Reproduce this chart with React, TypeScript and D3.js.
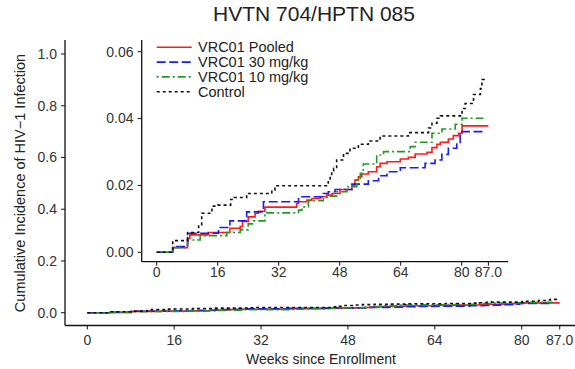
import React from "react";
import * as d3 from "d3";

// ---- data (weeks, cumulative incidence) ----
const xTicks = [0, 16, 32, 48, 64, 80, 87];
const xTickLabels = ["0", "16", "32", "48", "64", "80", "87.0"];
const mainYTicks = [0, 0.2, 0.4, 0.6, 0.8, 1.0];
const insetYTicks = [0, 0.02, 0.04, 0.06];

const seriesNames = ["VRC01 Pooled", "VRC01 30 mg/kg", "VRC01 10 mg/kg", "Control"];

const pooledTimes = [0, 4.2, 8.1, 8.7, 13.5, 19.2, 21.9, 22.5, 24.0, 25.8, 26.7, 28.4, 36.7, 37.2, 39.4, 40.7, 42.9, 44.6, 46.0, 48.1, 51.2, 52.0, 52.9, 53.8, 55.5, 57.7, 58.6, 60.4, 63.9, 66.0, 67.8, 70.9, 72.2, 73.5, 74.4, 76.5, 77.8, 79.2, 80.1, 87.0];
const pooledVals = [0, 0.0014, 0.0042, 0.0052, 0.0059, 0.0072, 0.0077, 0.0092, 0.0106, 0.0117, 0.0123, 0.0135, 0.0146, 0.0151, 0.0156, 0.0161, 0.0166, 0.0171, 0.0176, 0.0188, 0.0201, 0.0216, 0.0226, 0.0234, 0.0241, 0.0256, 0.0266, 0.0271, 0.0279, 0.0284, 0.0294, 0.0299, 0.0313, 0.0323, 0.0329, 0.0339, 0.0349, 0.0356, 0.0378, 0.0378];

const mg30Times = [0, 4.2, 8.1, 16.2, 19.2, 23.6, 28.0, 37.2, 43.7, 45.0, 46.8, 51.2, 55.5, 58.2, 60.4, 63.9, 70.4, 73.0, 74.8, 76.5, 78.7, 79.6, 85.7];
const mg30Vals = [0, 0.0017, 0.0057, 0.0074, 0.0094, 0.0121, 0.0151, 0.0166, 0.0176, 0.0181, 0.0188, 0.0204, 0.0214, 0.0229, 0.0241, 0.0253, 0.0266, 0.0276, 0.0293, 0.0311, 0.0326, 0.0361, 0.0361];

const mg10Times = [0, 4.2, 8.1, 11.4, 18.4, 21.9, 24.0, 25.4, 28.4, 28.9, 37.2, 38.1, 39.8, 43.7, 45.5, 47.2, 49.9, 52.5, 53.4, 54.2, 57.7, 59.5, 66.5, 67.8, 72.2, 74.8, 78.3, 80.1, 85.7];
const mg10Vals = [0, 0.0014, 0.0037, 0.0050, 0.0059, 0.0067, 0.0085, 0.0094, 0.0112, 0.0118, 0.0126, 0.0136, 0.0154, 0.0164, 0.0168, 0.0181, 0.0196, 0.0216, 0.0236, 0.0264, 0.0291, 0.0301, 0.0316, 0.0329, 0.0356, 0.0369, 0.0383, 0.0401, 0.0401];

const controlTimes = [0, 4.2, 8.1, 11.0, 11.8, 14.5, 16.0, 19.4, 20.3, 23.6, 30.2, 31.0, 45.0, 45.5, 45.9, 46.4, 47.2, 49.0, 50.7, 52.9, 55.5, 58.6, 66.0, 71.3, 72.2, 73.5, 74.4, 80.1, 80.9, 83.1, 84.9, 85.3, 86.6];
const controlVals = [0, 0.0035, 0.0059, 0.0082, 0.0117, 0.0138, 0.0141, 0.0158, 0.0164, 0.0176, 0.0186, 0.0199, 0.0211, 0.0226, 0.0244, 0.0251, 0.0276, 0.0296, 0.0311, 0.0323, 0.0333, 0.0348, 0.0358, 0.0372, 0.0386, 0.0401, 0.0408, 0.0430, 0.0445, 0.0472, 0.0490, 0.0517, 0.0517];

const seriesTimes = [pooledTimes, mg30Times, mg10Times, controlTimes];
const seriesVals = [pooledVals, mg30Vals, mg10Vals, controlVals];

// ---- styles ----
const colors = ["#ff1a1a", "#1a1aff", "#229922", "#111111"];
const dashes = ["none", "9,3.5", "2,3,8,3", "3,3"];
const FONT = "'Liberation Sans', Arial, sans-serif";
const TXT = "#333";

export default function App() {
  const W = 575, H = 369;

  // main scales
  const mx = d3.scaleLinear().domain([0, 80]).range([87.3, 521.7]);
  const my = d3.scaleLinear().domain([0, 1]).range([312.7, 54]);
  // inset scales
  const ix = d3.scaleLinear().domain([0, 80]).range([156.7, 461.7]);
  const iy = d3.scaleLinear().domain([0, 0.06]).range([252.3, 51.7]);

  const pts = seriesTimes.map((t, i) => t.map((w, j) => [w, seriesVals[i][j]] as [number, number]));

  const mainLine = d3.line<[number, number]>().x(d => mx(d[0])).y(d => my(d[1])).curve(d3.curveStepAfter);
  const insetLine = d3.line<[number, number]>().x(d => ix(d[0])).y(d => iy(d[1])).curve(d3.curveStepAfter);

  const mainAxisY = 325.5, mainAxisX = 65;
  const insetAxisY = 261.7, insetAxisX = 141.7;

  return (
    <svg width={W} height={H} style={{ position: "absolute", left: 0, top: 0 }} fontFamily={FONT}>
      <rect width={W} height={H} fill="#fff" />
      {/* title */}
      <text x={314} y={21} textAnchor="middle" fontSize={21} fill="#222">HVTN 704/HPTN 085</text>

      {/* main axes */}
      <line x1={mainAxisX} x2={mainAxisX} y1={40} y2={mainAxisY} stroke="#111" strokeWidth={1.3} />
      <line x1={mainAxisX} x2={575} y1={mainAxisY} y2={mainAxisY} stroke="#111" strokeWidth={1.3} />
      {mainYTicks.map(v => (
        <g key={"my" + v}>
          <line x1={mainAxisX - 4} x2={mainAxisX} y1={my(v)} y2={my(v)} stroke="#111" strokeWidth={1} />
          <text x={57} y={my(v)} dy="0.35em" textAnchor="end" fontSize={14} fill={TXT}>{v.toFixed(1)}</text>
        </g>
      ))}
      {xTicks.map((v, i) => (
        <g key={"mx" + v}>
          <line x1={mx(v)} x2={mx(v)} y1={mainAxisY} y2={mainAxisY + 4} stroke="#111" strokeWidth={1} />
          <text x={mx(v)} y={345} textAnchor="middle" fontSize={14} fill={TXT}>{xTickLabels[i]}</text>
        </g>
      ))}
      <text x={321} y={364} textAnchor="middle" fontSize={14} fill="#222">Weeks since Enrollment</text>
      <text transform={`translate(25,183) rotate(-90)`} textAnchor="middle" fontSize={14.5} fill="#222">Cumulative Incidence of HIV−1 Infection</text>

      {/* main lines */}
      {pts.map((p, i) => (
        <path key={"ml" + i} d={mainLine(p) || ""} fill="none" stroke={colors[i]} strokeWidth={1.6} strokeDasharray={dashes[i]} />
      ))}

      {/* inset axes */}
      <line x1={insetAxisX} x2={insetAxisX} y1={40} y2={insetAxisY} stroke="#111" strokeWidth={1.3} />
      <line x1={insetAxisX} x2={508.3} y1={insetAxisY} y2={insetAxisY} stroke="#111" strokeWidth={1.3} />
      {insetYTicks.map(v => (
        <g key={"iy" + v}>
          <line x1={insetAxisX - 4} x2={insetAxisX} y1={iy(v)} y2={iy(v)} stroke="#111" strokeWidth={1} />
          <text x={133.5} y={iy(v)} dy="0.35em" textAnchor="end" fontSize={14} fill={TXT}>{v.toFixed(2)}</text>
        </g>
      ))}
      {xTicks.map((v, i) => (
        <g key={"ix" + v}>
          <line x1={ix(v)} x2={ix(v)} y1={insetAxisY} y2={insetAxisY + 4} stroke="#111" strokeWidth={1} />
          <text x={ix(v)} y={276.5} textAnchor="middle" fontSize={14} fill={TXT}>{xTickLabels[i]}</text>
        </g>
      ))}

      {/* inset lines */}
      {pts.map((p, i) => (
        <path key={"il" + i} d={insetLine(p) || ""} fill="none" stroke={colors[i]} strokeWidth={1.6} strokeDasharray={dashes[i]} />
      ))}

      {/* legend */}
      {seriesNames.map((n, i) => {
        const y = 47.3 + i * 14.8;
        return (
          <g key={"lg" + i}>
            <line x1={156.7} x2={191.7} y1={y} y2={y} stroke={colors[i]} strokeWidth={1.6} strokeDasharray={dashes[i]} />
            <text x={198} y={y} dy="0.35em" fontSize={14.5} fill="#222">{n}</text>
          </g>
        );
      })}
    </svg>
  );
}
